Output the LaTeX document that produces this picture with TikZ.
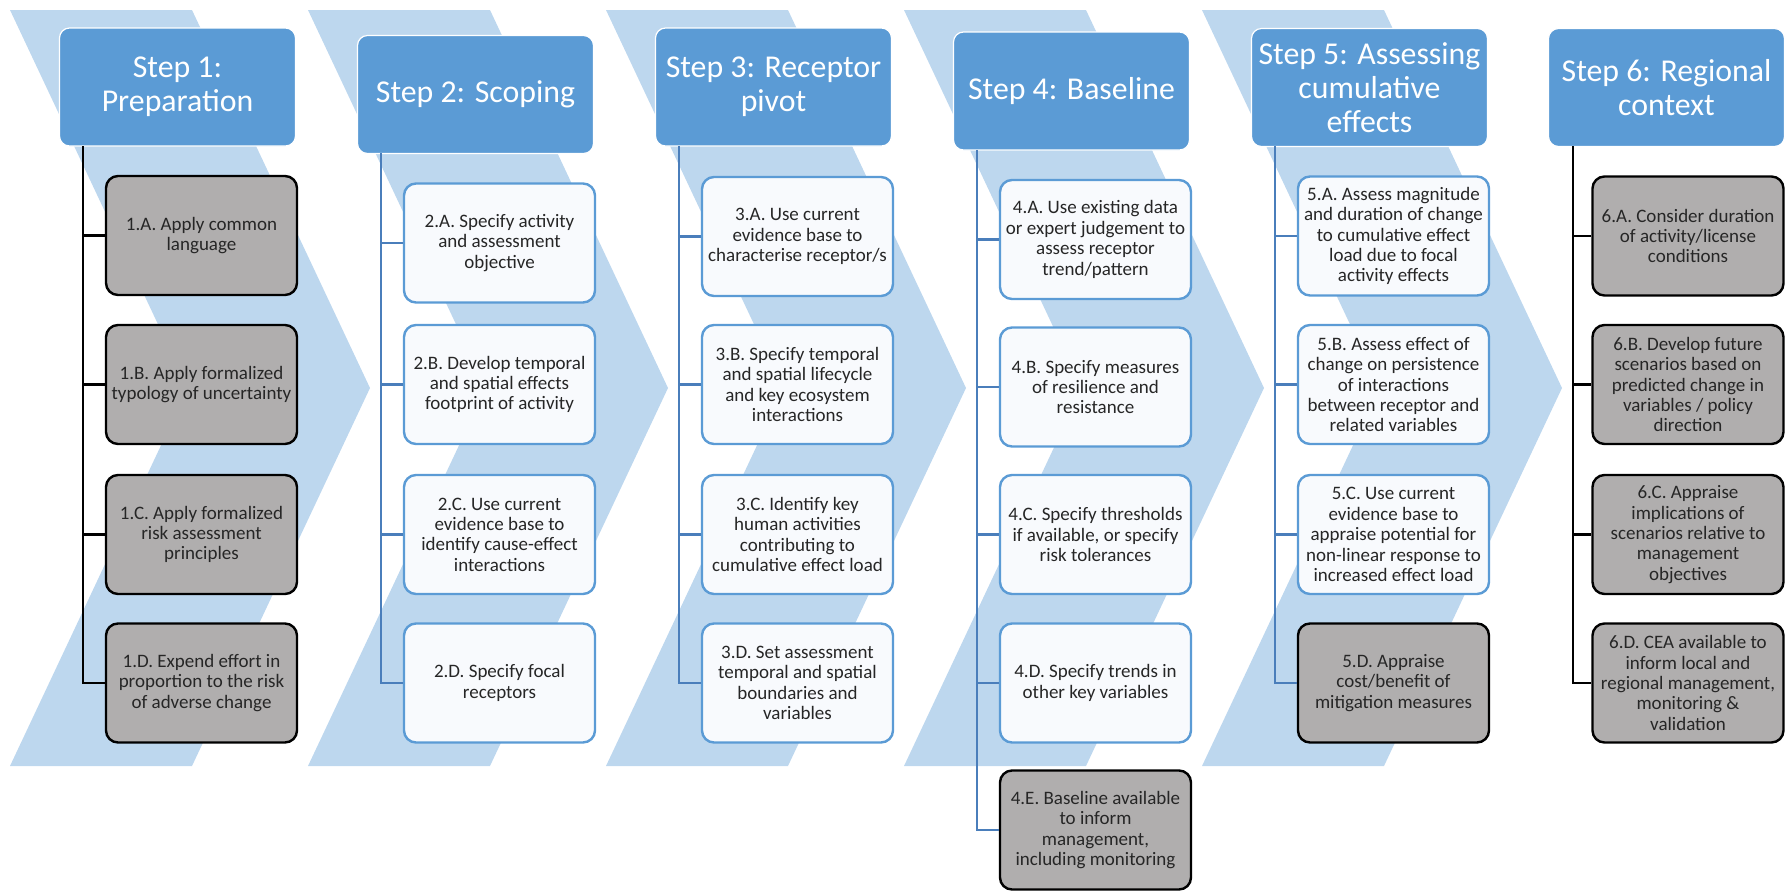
\documentclass[tikz,border=0pt]{standalone}
\usepackage{fontspec}
\setmainfont{Carlito}
\definecolor{chevronblue}{HTML}{BDD7EE}
\definecolor{stepblue}{HTML}{5B9BD5}
\definecolor{linkblue}{HTML}{4A7EBB}
\definecolor{boxgrey}{HTML}{B0AEAE}
\definecolor{boxwhite}{HTML}{F8FAFD}
\definecolor{boxtext}{HTML}{262626}

\begin{document}
\begin{tikzpicture}[x=0.5pt,y=-0.5pt]
        \tikzstyle{chevron}=[fill=chevronblue]
        \tikzstyle{stepbox}=[rectangle,rounded corners=5pt,fill=stepblue,draw=white,line width=0.6pt,text=white,minimum width=118pt,minimum height=59pt,inner sep=0pt,align=center,font=\fontsize{15.9}{17}\selectfont]
        \tikzstyle{task}=[rectangle,rounded corners=6pt,line width=1.2pt,minimum width=95.5pt,minimum height=59.5pt,inner sep=0pt,align=center,text=boxtext,font=\fontsize{9.5}{10.2}\selectfont]
        \tikzstyle{taskwhite}=[task,fill=boxwhite,draw=stepblue]
        \tikzstyle{taskgrey}=[task,fill=boxgrey,draw=black]
        \tikzstyle{linkblue}=[line width=1.3pt,draw=linkblue]
        \tikzstyle{linkblack}=[line width=1.4pt,draw=black]
        \useasboundingbox (0,0) rectangle (1785,891);
        % chevrons behind steps 1-5
        \fill[chevron] (10,10) -- (192,10) -- (370,388) -- (192,766) -- (10,766) -- (188,388) -- cycle;
        \fill[chevron,shift={(298,0)}] (10,10) -- (192,10) -- (370,388) -- (192,766) -- (10,766) -- (188,388) -- cycle;
        \fill[chevron,shift={(596,0)}] (10,10) -- (192,10) -- (370,388) -- (192,766) -- (10,766) -- (188,388) -- cycle;
        \fill[chevron,shift={(894,0)}] (10,10) -- (192,10) -- (370,388) -- (192,766) -- (10,766) -- (188,388) -- cycle;
        \fill[chevron,shift={(1192,0)}] (10,10) -- (192,10) -- (370,388) -- (192,766) -- (10,766) -- (188,388) -- cycle;
        % step headers
        \node[stepbox] (step_1) at (177.5,87) {Step 1:\\Preparation};
        \node[stepbox] (step_2) at (475.5,94.5) {Step 2: Scoping};
        \node[stepbox] (step_3) at (773.5,87) {Step 3: Receptor\\pivot};
        \node[stepbox] (step_4) at (1071.5,91) {Step 4: Baseline};
        \node[stepbox] (step_5) at (1369.5,87.5) {Step 5: Assessing\\cumulative\\effects};
        \node[stepbox] (step_6) at (1666.5,87.5) {Step 6: Regional\\context};
        % tasks
        \node[taskgrey] (task_1a) at (201.5,235.5) {1.A. Apply common\\language};
        \node[taskgrey] (task_1b) at (201.5,384.5) {1.B. Apply formalized\\typology of uncertainty};
        \node[taskgrey] (task_1c) at (201.5,534.5) {1.C. Apply formalized\\risk assessment\\principles};
        \node[taskgrey] (task_1d) at (201.5,683) {1.D. Expend effort in\\proportion to the risk\\of adverse change};
        \node[taskwhite] (task_2a) at (499.5,243) {2.A. Specify activity\\and assessment\\objective};
        \node[taskwhite] (task_2b) at (499.5,384.5) {2.B. Develop temporal\\and spatial effects\\footprint of activity};
        \node[taskwhite] (task_2c) at (499.5,534.5) {2.C. Use current\\evidence base to\\identify cause-effect\\interactions};
        \node[taskwhite] (task_2d) at (499.5,683) {2.D. Specify focal\\receptors};
        \node[taskwhite] (task_3a) at (797.5,236.5) {3.A. Use current\\evidence base to\\characterise receptor/s};
        \node[taskwhite] (task_3b) at (797.5,384.5) {3.B. Specify temporal\\and spatial lifecycle\\and key ecosystem\\interactions};
        \node[taskwhite] (task_3c) at (797.5,534.5) {3.C. Identify key\\human activities\\contributing to\\cumulative effect load};
        \node[taskwhite] (task_3d) at (797.5,683) {3.D. Set assessment\\temporal and spatial\\boundaries and\\variables};
        \node[taskwhite] (task_4a) at (1095.5,239.5) {4.A. Use existing data\\or expert judgement to\\assess receptor\\trend/pattern};
        \node[taskwhite] (task_4b) at (1095.5,387) {4.B. Specify measures\\of resilience and\\resistance};
        \node[taskwhite] (task_4c) at (1095.5,534.5) {4.C. Specify thresholds\\if available, or specify\\risk tolerances};
        \node[taskwhite] (task_4d) at (1095.5,683) {4.D. Specify trends in\\other key variables};
        \node[taskgrey] (task_4e) at (1095.5,830) {4.E. Baseline available\\to inform\\management,\\including monitoring};
        \node[taskwhite] (task_5a) at (1393.5,236) {5.A. Assess magnitude\\and duration of change\\to cumulative effect\\load due to focal\\activity effects};
        \node[taskwhite] (task_5b) at (1393.5,384.5) {5.B. Assess effect of\\change on persistence\\of interactions\\between receptor and\\related variables};
        \node[taskwhite] (task_5c) at (1393.5,534.5) {5.C. Use current\\evidence base to\\appraise potential for\\non-linear response to\\increased effect load};
        \node[taskgrey] (task_5d) at (1393.5,683) {5.D. Appraise\\cost/benefit of\\mitigation measures};
        \node[taskgrey] (task_6a) at (1688,236) {6.A. Consider duration\\of activity/license\\conditions};
        \node[taskgrey] (task_6b) at (1688,384.5) {6.B. Develop future\\scenarios based on\\predicted change in\\variables / policy\\direction};
        \node[taskgrey] (task_6c) at (1688,534.5) {6.C. Appraise\\implications of\\scenarios relative to\\management\\objectives};
        \node[taskgrey] (task_6d) at (1688,683) {6.D. CEA available to\\inform local and\\regional management,\\monitoring \&\\validation};
        % spines under the headers
        \coordinate (spine_1) at (83,146);
        \coordinate (spine_2) at (381,153);
        \coordinate (spine_3) at (679,146);
        \coordinate (spine_4) at (977,150);
        \coordinate (spine_5) at (1275,146);
        \coordinate (spine_6) at (1573,146);
        \draw[linkblack] (spine_1) |- (task_1d.west);
        \draw[linkblack] (spine_1 |- task_1a.west) -- (task_1a.west);
        \draw[linkblack] (spine_1 |- task_1b.west) -- (task_1b.west);
        \draw[linkblack] (spine_1 |- task_1c.west) -- (task_1c.west);
        \draw[linkblue] (spine_2) |- (task_2d.west);
        \draw[linkblue] (spine_2 |- task_2a.west) -- (task_2a.west);
        \draw[linkblue] (spine_2 |- task_2b.west) -- (task_2b.west);
        \draw[linkblue] (spine_2 |- task_2c.west) -- (task_2c.west);
        \draw[linkblue] (spine_3) |- (task_3d.west);
        \draw[linkblue] (spine_3 |- task_3a.west) -- (task_3a.west);
        \draw[linkblue] (spine_3 |- task_3b.west) -- (task_3b.west);
        \draw[linkblue] (spine_3 |- task_3c.west) -- (task_3c.west);
        \draw[linkblue] (spine_4) |- (task_4e.west);
        \draw[linkblue] (spine_4 |- task_4a.west) -- (task_4a.west);
        \draw[linkblue] (spine_4 |- task_4b.west) -- (task_4b.west);
        \draw[linkblue] (spine_4 |- task_4c.west) -- (task_4c.west);
        \draw[linkblue] (spine_4 |- task_4d.west) -- (task_4d.west);
        \draw[linkblue] (spine_5) |- (task_5d.west);
        \draw[linkblue] (spine_5 |- task_5a.west) -- (task_5a.west);
        \draw[linkblue] (spine_5 |- task_5b.west) -- (task_5b.west);
        \draw[linkblue] (spine_5 |- task_5c.west) -- (task_5c.west);
        \draw[linkblack] (spine_6) |- (task_6d.west);
        \draw[linkblack] (spine_6 |- task_6a.west) -- (task_6a.west);
        \draw[linkblack] (spine_6 |- task_6b.west) -- (task_6b.west);
        \draw[linkblack] (spine_6 |- task_6c.west) -- (task_6c.west);
      \end{tikzpicture}
\end{document}
